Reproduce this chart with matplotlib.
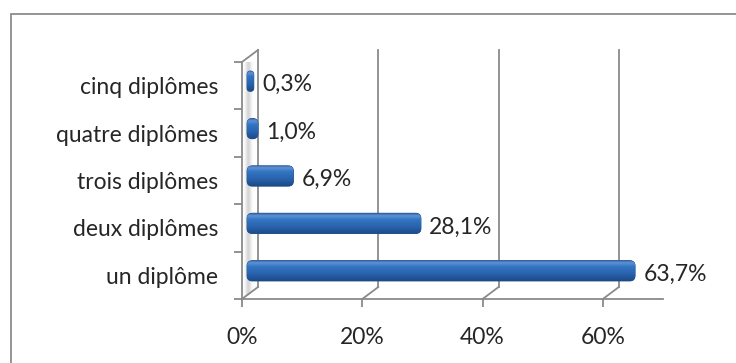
import numpy as np
import matplotlib.pyplot as plt
from matplotlib.patches import FancyBboxPatch, Rectangle, Polygon
from matplotlib.colors import LinearSegmentedColormap

categories = ['un diplôme', 'deux diplômes', 'trois diplômes', 'quatre diplômes', 'cinq diplômes']
values = [63.7, 28.1, 6.9, 1.0, 0.3]
value_labels = ['63,7%', '28,1%', '6,9%', '1,0%', '0,3%']
xticks = [0, 20, 40, 60]
xtick_labels = ['0%', '20%', '40%', '60%']

plt.rcParams['font.family'] = ['Lato', 'DejaVu Sans']
W, H = 736, 363
fs = 16.5
txt_color = '#262626'
fig = plt.figure(figsize=(W / 100, H / 100), dpi=100)

# outer frame (cut off on the right and bottom in the original)
fig.patches.append(Rectangle((10.5 / W, -0.1), 1.2, 1.1 - 13.5 / H, transform=fig.transFigure,
                             fill=False, edgecolor='#8c8c8c', lw=1.3))

x0, x1, y0, y1 = 242, 663, 299, 62
ax = fig.add_axes([x0 / W, (H - y0) / H, (x1 - x0) / W, (y0 - y1) / H])
xmax = 70
ax.set_xlim(0, xmax)
ax.set_ylim(-0.5, 4.5)
sx = (x1 - x0) / xmax
sy = (y0 - y1) / 5.0

gray = '#8a8a8a'
dxb, dyb = 16 / sx, 12 / sy      # back wall offset
dxm, dym = 5 / sx, 4.5 / sy      # bar plane offset
cap = 5 / sx                     # rounded end of the bars

# side wall shading
wall = np.linspace(0, 1, 50)
wall = np.exp(-((wall - 0.4) / 0.18) ** 2)[None, :]
im = ax.imshow(wall, extent=(0, dxb, -0.5, 4.5 + dyb), cmap=LinearSegmentedColormap.from_list('w', ['white', '#d6d6d6']),
               aspect='auto', zorder=0.5, vmin=0, vmax=1)
poly = Polygon([(0, -0.5), (dxb, -0.5 + dyb), (dxb, 4.5 + dyb), (0, 4.5)], closed=True,
               transform=ax.transData, facecolor='none', edgecolor='none')
ax.add_patch(poly)
im.set_clip_path(poly)

# back wall gridlines and floor diagonals
for t in xticks:
    ax.plot([t + dxb, t + dxb], [-0.5 + dyb, 4.5 + dyb], color=gray, lw=1.3, clip_on=False, zorder=1)
    ax.plot([t, t + dxb], [-0.5, -0.5 + dyb], color=gray, lw=1.3, clip_on=False, zorder=1)
ax.plot([0, dxb], [4.5, 4.5 + dyb], color=gray, lw=1.3, clip_on=False, zorder=1)

# bars with cylinder-like shading
bar_cmap = LinearSegmentedColormap.from_list('b', [(0, '#1b4a87'), (0.35, '#2963ad'), (0.7, '#3475c2'),
                                                   (0.88, '#5e93d6'), (1, '#2c5e9e')])
grad = np.linspace(0, 1, 64)[:, None]
bars = ax.barh(np.arange(len(values)) + dym, values, height=0.43, left=dxm, color='none')
for rect, lab in zip(bars, value_labels):
    bx, by, bw, bh = rect.get_x(), rect.get_y(), rect.get_width() + cap, rect.get_height()
    rs = min(0.9, bw / 2)
    box = FancyBboxPatch((bx, by), bw, bh, boxstyle='round,pad=0,rounding_size=%f' % rs,
                         mutation_aspect=sx / sy, facecolor='#2a62aa', edgecolor='#1e4f8f', lw=0.6, zorder=3)
    ax.add_patch(box)
    g = ax.imshow(grad, extent=(bx, bx + bw, by, by + bh), origin='lower', cmap=bar_cmap,
                  aspect='auto', zorder=3.1)
    g.set_clip_path(box)
    ax.annotate(lab, (bx + bw, by + bh / 2), xytext=(6, -2.5), textcoords='offset points',
                ha='left', va='center', fontsize=fs, color=txt_color, zorder=4)

ax.set_xlim(0, xmax)
ax.set_ylim(-0.5, 4.5)

# front axes
for s in ['top', 'right']:
    ax.spines[s].set_visible(False)
for s in ['left', 'bottom']:
    ax.spines[s].set_color(gray)
    ax.spines[s].set_linewidth(1.3)
ax.set_xticks(xticks)
ax.set_xticklabels(xtick_labels)
ax.set_yticks(np.arange(-0.5, 5, 1))
ax.set_yticklabels([])
ax.set_yticks(np.arange(len(categories)), minor=True)
ax.set_yticklabels(categories, minor=True)
ax.tick_params(axis='y', which='major', length=6, width=1.3, color=gray)
ax.tick_params(axis='y', which='minor', length=0, pad=17, labelsize=fs, labelcolor=txt_color)
ax.tick_params(axis='x', length=6, width=1.3, color=gray, pad=14, labelsize=fs, labelcolor=txt_color)
ax.patch.set_visible(False)

plt.savefig('out.png', dpi=100)
